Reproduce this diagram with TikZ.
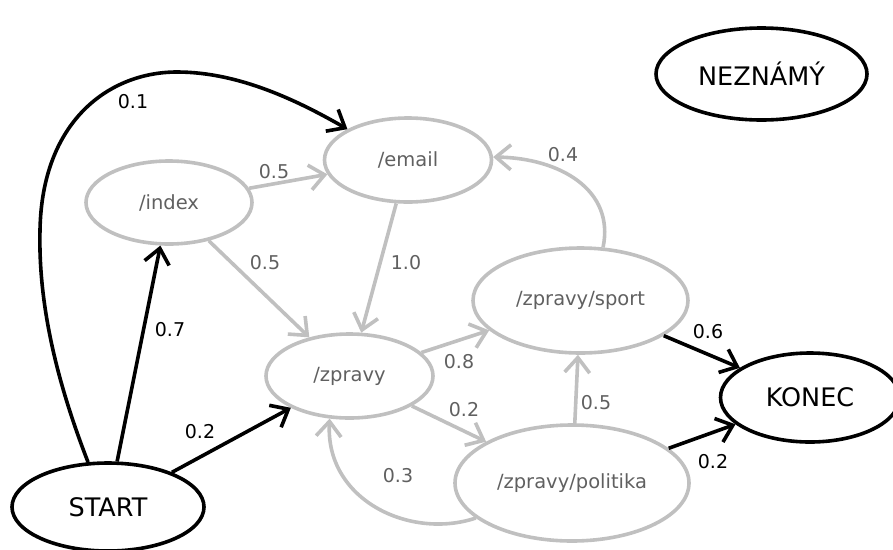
\documentclass[tikz,border=0pt]{standalone}
\usepackage{fontspec}
\setmainfont{DejaVu Sans}
\usetikzlibrary{shapes.geometric,arrows.meta}
\definecolor{edgegray}{RGB}{192,192,192}
\definecolor{textgray}{RGB}{96,96,96}
\tikzset{
  state/.style={ellipse, draw, line width=3.6pt, inner sep=0pt},
  mainstate/.style={state, draw=black, text=black, font=\fontsize{25.5}{30}\selectfont},
  pagestate/.style={state, draw=edgegray, text=textgray, font=\fontsize{19.5}{24}\selectfont},
  flow/.style={line width=3.6pt, -{Straight Barb[length=15pt,width=25pt,line width=3.6pt]}},
  mainflow/.style={flow, draw=black},
  pageflow/.style={flow, draw=edgegray},
  prob/.style={font=\fontsize{19}{23}\selectfont, inner sep=0pt},
  mainprob/.style={prob, text=black},
  pageprob/.style={prob, text=textgray},
}
\begin{document}
\begin{tikzpicture}[x=1pt, y=-1pt]
\useasboundingbox (0,0) rectangle (893,549);

% states
\node[mainstate, minimum width=192pt, minimum height=88pt] (start) at (108,507) {START};
\node[mainstate, minimum width=179pt, minimum height=89pt] (konec) at (810,397.5) {KONEC};
\node[mainstate, minimum width=211pt, minimum height=92pt] (unknown) at (761.5,74) {NEZNÁMÝ};
\node[pagestate, minimum width=166pt, minimum height=83pt] (index) at (169,202.5) {/index};
\node[pagestate, minimum width=167pt, minimum height=84pt] (email) at (408,160) {/email};
\node[pagestate, minimum width=167pt, minimum height=84pt] (zpravy) at (349.5,376) {/zpravy};
\node[pagestate, minimum width=215pt, minimum height=105pt] (sport) at (580.5,300.5) {/zpravy/sport};
\node[pagestate, minimum width=234pt, minimum height=116pt] (politika) at (572,483) {/zpravy/politika};

% transitions out of START
\draw[mainflow] (start.114) .. controls (60,390) and (38,310) .. (40,230)
  .. controls (42,120) and (110,72) .. (177,72)
  .. controls (240,72) and (300,102) .. (email.153);
\draw[mainflow] (start) -- (index);
\draw[mainflow] (start) -- (zpravy);

% transitions between pages
\draw[pageflow] (index) -- (email);
\draw[pageflow] (index) -- (zpravy);
\draw[pageflow] (email) -- (zpravy);
\draw[pageflow] (zpravy) -- (sport);
\draw[pageflow] (zpravy) -- (politika);
\draw[pageflow] (politika) -- (sport);
\draw[pageflow] (politika.200) .. controls (410,540) and (325,500) .. (zpravy.245);
\draw[pageflow] (sport.67) .. controls (615,190) and (560,158) .. (email.2);

% transitions into KONEC
\draw[mainflow] (sport) -- (konec);
\draw[mainflow] (politika) -- (konec);

% probabilities
\node[mainprob] (p1) at (133,102) {0.1};
\node[mainprob] (p2) at (170,330) {0.7};
\node[mainprob] (p3) at (200,432) {0.2};
\node[pageprob] (p4) at (274,172) {0.5};
\node[pageprob] (p5) at (265,263) {0.5};
\node[pageprob] (p6) at (406,263) {1.0};
\node[pageprob] (p7) at (459,362) {0.8};
\node[pageprob] (p8) at (464,410) {0.2};
\node[pageprob] (p9) at (596,403) {0.5};
\node[pageprob] (p10) at (398,476) {0.3};
\node[pageprob] (p11) at (563,155) {0.4};
\node[mainprob] (p12) at (708,332) {0.6};
\node[mainprob] (p13) at (713,462) {0.2};
\end{tikzpicture}
\end{document}
